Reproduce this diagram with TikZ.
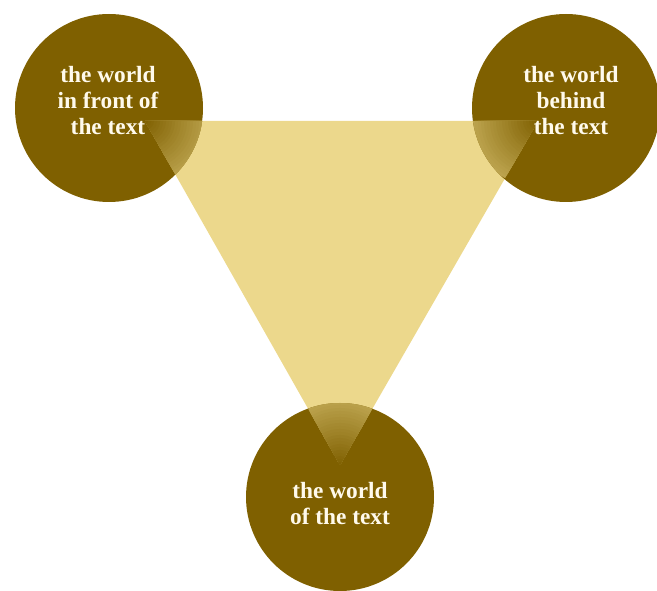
\documentclass[tikz,border=0pt]{standalone}
\usepackage{fontspec}
\setmainfont{Liberation Serif}
\usetikzlibrary{positioning}
\definecolor{darkgold}{RGB}{127,96,0}
\definecolor{palegold}{RGB}{236,216,140}
\definecolor{creamtext}{RGB}{255,250,236}

\begin{document}
\begin{tikzpicture}[x=0.75pt,y=-0.75pt,
    world/.style={circle,fill=darkgold,minimum size=141pt,inner sep=0pt},
    worldtext/.style={align=center,text=creamtext,
      font=\bfseries\fontsize{17.5}{19.5}\selectfont}]
  \useasboundingbox (0,0) rectangle (657,591);
  % corners of the triangle
  \coordinate (tl) at (145,121);
  \coordinate (tr) at (538,121);
  \coordinate (bt) at (340,465);
  \fill[palegold] (tl) -- (tr) -- (bt) -- cycle;

  \node[world] (front) at (109,108) {};
  \node[world] (behind) at (566,108) {};
  \node[world] (oftext) at (340,497) {};

  % soft corners inside the circles
  \foreach \c/\v in {front/tl,behind/tr,oftext/bt}{
    \begin{scope}
      \clip (\c.center) circle [radius=94];
      \clip (tl) -- (tr) -- (bt) -- cycle;
      \foreach \r in {66,63,...,3}{
        \pgfmathtruncatemacro{\p}{\r*0.85}
        \fill[palegold!\p!darkgold] (\v) circle [radius=\r];
      }
    \end{scope}
  }

  \node[worldtext] (frontlbl) at (108,101) {the world\\in front of\\the text};
  \node[worldtext] (behindlbl) at (571,101) {the world\\behind\\the text};
  \node[worldtext] (oftextlbl) at (340,504) {the world\\of the text};
\end{tikzpicture}
\end{document}
